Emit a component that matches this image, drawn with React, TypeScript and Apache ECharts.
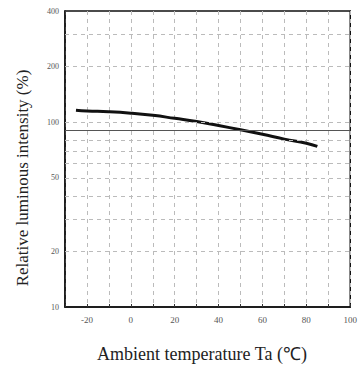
import React, { useEffect, useRef } from "react";
import * as echarts from "echarts";

const temps = [-25, -20, -10, 0, 10, 20, 30, 40, 50, 60, 70, 80, 85];
const intensity = [116, 115, 114, 112, 109, 105, 101, 96, 91, 86, 81, 77, 74];
const yTickValues = [10, 20, 50, 100, 200, 400];
const yGridValues = [20, 30, 40, 50, 60, 70, 80, 100, 200, 300];
const refLineValue = 90;
const xTitle = "Ambient temperature Ta (\u2103)";
const yTitle = "Relative luminous intensity (%)";

export default function App() {
  const ref = useRef<HTMLDivElement>(null);
  useEffect(() => {
    if (!ref.current) return;
    const chart = echarts.init(ref.current, null, { renderer: "svg" });
    const font = "Liberation Serif";
    chart.setOption({
      animation: false,
      backgroundColor: "#fff",
      grid: {
        left: 65,
        right: 3,
        top: 11,
        bottom: 60,
        show: true,
        borderColor: "#111",
        borderWidth: 1.5,
      },
      graphic: [
        {
          type: "text",
          x: 202,
          y: 354,
          style: {
            text: xTitle,
            font: `18px "${font}"`,
            fill: "#222",
            align: "center",
            verticalAlign: "middle",
          },
        },
        {
          type: "text",
          x: 22,
          y: 178,
          rotation: Math.PI / 2,
          style: {
            text: yTitle,
            font: `17px "${font}"`,
            fill: "#222",
            align: "center",
            verticalAlign: "middle",
          },
        },
      ],
      xAxis: {
        type: "value",
        min: -30,
        max: 100,
        interval: 10,
        axisLine: { onZero: false, lineStyle: { color: "#111", width: 1.5 } },
        axisTick: { show: true, inside: true, length: 3, lineStyle: { color: "#333" } },
        axisLabel: {
          fontFamily: font,
          fontSize: 9,
          color: "#555",
          margin: 8,
          formatter: (v: number) => (v % 20 === 0 ? String(v) : ""),
          showMinLabel: true,
          showMaxLabel: true,
        },
        splitLine: {
          show: true,
          lineStyle: { color: "#bbb", type: [4, 4], width: 1 },
        },
      },
      yAxis: {
        type: "log",
        logBase: 10,
        min: 10,
        max: 400,
        axisLine: { onZero: false, lineStyle: { color: "#111", width: 1.5 } },
        axisTick: { show: false },
        axisLabel: {
          fontFamily: font,
          fontSize: 8,
          color: "#555",
          margin: 6,
          customValues: yTickValues,
        },
        splitLine: { show: false },
      },
      series: [
        {
          type: "line",
          data: temps.map((t, i) => [t, intensity[i]]),
          smooth: true,
          showSymbol: false,
          lineStyle: { color: "#111", width: 3 },
          markLine: {
            silent: true,
            symbol: "none",
            label: { show: false },
            data: [
              ...yGridValues.map((v) => ({
                yAxis: v,
                lineStyle: { color: "#bbb", type: [4, 4], width: 1 },
              })),
              { yAxis: refLineValue, lineStyle: { color: "#555", type: "solid", width: 1 } },
            ],
          },
        },
      ],
    });
    return () => chart.dispose();
  }, []);
  return (
    <div
      ref={ref}
      style={{ position: "absolute", left: 0, top: 0, width: 360, height: 367 }}
    />
  );
}
